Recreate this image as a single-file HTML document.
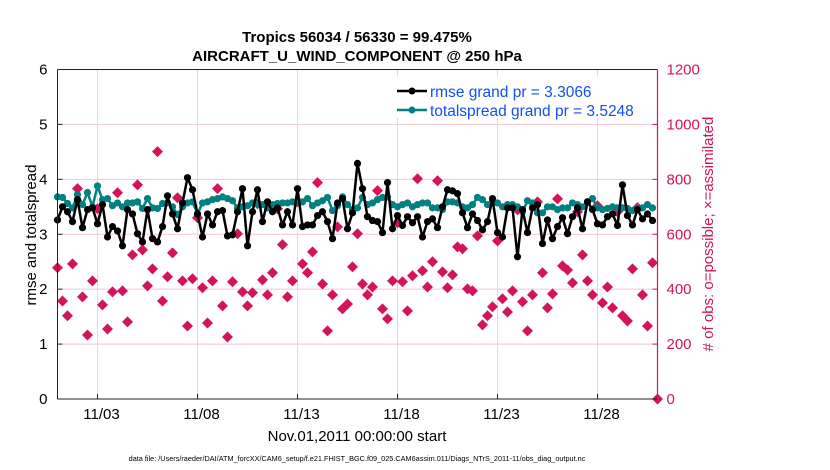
<!DOCTYPE html>
<html><head><meta charset="utf-8"><style>
body{margin:0;background:#fff;}
svg{display:block;font-family:"Liberation Sans",Arial,sans-serif;}
</style></head><body>
<svg id="chart" width="830" height="470" viewBox="0 0 830 470">
<rect x="0" y="0" width="830" height="470" fill="#fff"/>
<text x="357" y="42" text-anchor="middle" font-size="15" font-weight="bold">Tropics 56034 / 56330 = 99.475%</text>
<text x="357" y="61" text-anchor="middle" font-size="15" font-weight="bold">AIRCRAFT_U_WIND_COMPONENT @ 250 hPa</text>
<g id="grid"></g>
<g id="obs"></g>
<g id="series"></g>
<g id="axes"></g>
<g>
<rect x="392" y="76" width="262" height="42" fill="#fff"/>
<line x1="397" y1="91" x2="427" y2="91" stroke="#000" stroke-width="2.5"/>
<circle cx="412" cy="91" r="3.5" fill="#000"/>
<text x="430" y="97" font-size="15.5" fill="#1450f0">rmse grand pr = 3.3066</text>
<line x1="397" y1="110" x2="427" y2="110" stroke="#008080" stroke-width="2.5"/>
<circle cx="412" cy="110" r="3.5" fill="#008080"/>
<text x="430" y="116" font-size="15.5" fill="#1450f0">totalspread grand pr = 3.5248</text>
</g>
<text transform="translate(36,235) rotate(-90)" text-anchor="middle" font-size="15">rmse and totalspread</text>
<text transform="translate(713,234) rotate(-90)" text-anchor="middle" font-size="15" fill="#d4145a"># of obs: o=possible; ×=assimilated</text>
<text x="357" y="441" text-anchor="middle" font-size="15">Nov.01,2011 00:00:00 start</text>
<text x="357" y="461" text-anchor="middle" font-size="7.3">data file: /Users/raeder/DAI/ATM_forcXX/CAM6_setup/f.e21.FHIST_BGC.f09_025.CAM6assim.011/Diags_NTrS_2011-11/obs_diag_output.nc</text>
</svg>
<script>
const rmse=[3.26,3.50,3.41,3.23,3.63,3.12,3.45,3.48,3.19,3.54,2.95,3.14,3.06,2.79,3.45,3.37,3.01,2.86,3.45,2.92,2.86,3.14,3.70,3.37,3.10,3.57,4.03,3.81,3.37,2.95,3.37,
3.17,3.41,3.43,2.97,2.99,3.41,3.83,2.79,3.41,3.81,3.23,3.59,3.41,3.48,3.17,3.41,3.17,3.83,3.14,3.17,3.17,3.34,3.41,3.23,2.92,3.57,3.65,3.10,3.39,4.29,
3.83,3.32,3.25,3.23,3.03,3.94,3.10,3.34,3.16,3.32,3.21,3.32,2.95,3.23,3.28,3.12,3.50,3.81,3.79,3.74,3.39,3.12,3.37,3.25,3.08,3.23,3.65,3.03,2.95,3.48,
3.48,2.59,3.45,3.03,3.48,3.54,2.83,3.26,2.92,3.14,3.30,3.01,3.32,3.48,3.10,3.59,3.45,3.19,3.17,3.32,3.37,3.16,3.90,3.34,3.17,3.45,3.28,3.37,3.25,null];
const spread=[3.68,3.67,3.56,3.48,3.72,3.54,3.76,3.50,3.88,3.63,3.65,3.52,3.57,3.50,3.57,3.57,3.59,3.47,3.65,3.48,3.47,3.56,3.57,3.50,3.36,3.50,3.57,3.59,3.37,3.57,3.59,
3.63,3.65,3.68,3.65,3.61,3.48,3.50,3.52,3.57,3.56,3.54,3.48,3.54,3.56,3.57,3.57,3.59,3.59,3.59,3.65,3.52,3.57,3.61,3.67,3.43,3.52,3.68,3.54,3.45,3.48,
3.67,3.54,3.57,3.63,3.67,3.68,3.54,3.50,3.54,3.57,3.50,3.54,3.57,3.57,3.48,3.48,3.45,3.59,3.59,3.57,3.50,3.48,3.54,3.67,3.63,3.54,3.59,3.57,3.50,3.54,
3.54,3.50,3.41,3.61,3.57,3.39,3.39,3.50,3.50,3.45,3.48,3.48,3.57,3.54,3.50,3.59,3.65,3.48,3.45,3.47,3.50,3.48,3.48,3.47,3.43,3.47,3.48,3.54,3.48,null];
const nobs=[478,357,303,492,766,372,233,430,693,343,255,390,751,394,281,525,780,543,412,474,901,357,445,532,733,430,266,438,660,405,277,
430,766,339,226,427,602,390,339,387,711,434,379,460,693,562,372,430,718,492,460,536,788,419,248,379,627,328,346,481,602,
419,379,408,759,328,292,430,642,427,321,449,802,467,408,500,795,463,405,452,554,547,401,394,594,270,303,336,576,365,317,
394,689,354,248,379,718,460,332,383,729,485,470,423,682,525,430,379,704,350,408,332,682,303,284,474,697,379,266,496,0];
const yTicks=[0,1,2,3,4,5,6];
const rTicks=[0,200,400,600,800,1000,1200];
const xTickDays=[2,7,12,17,22,27];
const xTickLabels=["11/03","11/08","11/13","11/18","11/23","11/28"];
const X0=57.5,X1=657.5,Y0=399,Y6=69.5;
function xs(t){return X0+(X1-X0)*t/30;}
function ys(v){return Y0-(Y0-Y6)*v/6;}
function yr(v){return Y0-(Y0-Y6)*v/1200;}
const NS="http://www.w3.org/2000/svg";
function mk(tag,attrs,parent){const e=document.createElementNS(NS,tag);for(const k in attrs)e.setAttribute(k,attrs[k]);parent.appendChild(e);return e;}
const grid=document.getElementById('grid'),axes=document.getElementById('axes'),ser=document.getElementById('series'),obs=document.getElementById('obs');
yTicks.forEach(v=>{if(v>0&&v<6){const l=mk('line',{x1:X0,x2:X1,y1:ys(v),y2:ys(v),stroke:'#f2c4d4','stroke-width':1},grid);

}
const t=mk('text',{x:X0-10,y:ys(v)+5,'text-anchor':'end','font-size':15},axes);t.textContent=v;


mk('line',{x1:X0,x2:X0+5,y1:ys(v),y2:ys(v),stroke:'#222'},axes);});
rTicks.forEach(v=>{const t=mk('text',{x:X1+9,y:yr(v)+5,'font-size':15,fill:'#d4145a'},axes);t.textContent=v;


mk('line',{x1:X1-5,x2:X1,y1:yr(v),y2:yr(v),stroke:'#d4145a'},axes);});
xTickDays.forEach((d,i)=>{const x=xs(d);const g=mk('line',{x1:x,x2:x,y1:Y6,y2:Y0,stroke:'#dcdcdc'},grid);


mk('line',{x1:x,x2:x,y1:Y0,y2:Y0-5,stroke:'#222'},axes);
const t=mk('text',{x:x+4,y:Y0+20,'text-anchor':'middle','font-size':15},axes);t.textContent=xTickLabels[i];

});
mk('line',{x1:X0,x2:X1,y1:Y0,y2:Y0,stroke:'#222','stroke-width':1},axes);
mk('line',{x1:X0,x2:X1,y1:Y6,y2:Y6,stroke:'#222','stroke-width':1},axes);
mk('line',{x1:X0,x2:X0,y1:Y6,y2:Y0,stroke:'#222','stroke-width':1},axes);
mk('line',{x1:X1,x2:X1,y1:Y6,y2:Y0,stroke:'#d4145a','stroke-width':1.2},axes);
nobs.forEach((v,i)=>{const x=xs(i*0.25),y=yr(v);
const c=mk('path',{d:`M${x-5.5},${y}L${x},${y-5.5}L${x+5.5},${y}L${x},${y+5.5}Z`,fill:'#d4145a'},obs);

});
function drawLine(arr,col,name){let d='';let pen=false;arr.forEach((v,i)=>{if(v==null){pen=false;return;}d+=(pen?'L':'M')+xs(i*0.25)+','+ys(v);pen=true;});
const p=mk('path',{d:d,fill:'none',stroke:col,'stroke-width':2.5,'stroke-linejoin':'round'},ser);


arr.forEach((v,i)=>{if(v==null)return;const c=mk('circle',{cx:xs(i*0.25),cy:ys(v),r:3.6,fill:col},ser);

});}
drawLine(spread,'#008080','totalspread');
drawLine(rmse,'#000','rmse');
</script>
</body></html>
